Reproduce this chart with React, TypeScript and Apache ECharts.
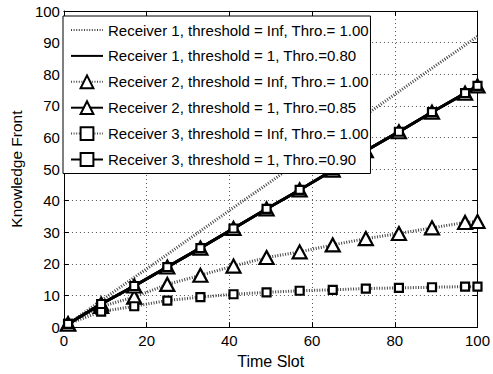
import React, { useEffect, useRef } from "react";
import * as echarts from "echarts";

const timeSlots = [1, 9, 17, 25, 33, 41, 49, 57, 65, 73, 81, 89, 97, 100];
const r1Inf = [1, 8.4, 15.7, 23, 30.4, 37.8, 45.1, 52.5, 59.8, 67.2, 74.5, 81.9, 89.2, 92];
const r1Th1 = [1, 7.3, 13, 19, 25, 31.2, 37.4, 43.4, 49.6, 55.8, 61.8, 68, 74, 76.3];
const r2Inf = [1, 6.5, 9.5, 13.5, 16.4, 19.3, 22, 23.8, 26, 28, 29.6, 31.4, 33.1, 33.4];
const r2Th1 = [1, 7.3, 13, 19, 25, 31.2, 37.4, 43.4, 49.6, 55.8, 61.8, 68, 74, 76.3];
const r3Inf = [1, 4.9, 6.6, 8.4, 9.5, 10.4, 11, 11.5, 11.8, 12.2, 12.4, 12.6, 12.8, 12.8];
const r3Th1 = [1, 7.3, 13, 19, 25, 31.2, 37.4, 43.4, 49.6, 55.8, 61.8, 68, 74, 76.3];
const seriesNames = [
  "Receiver 1, threshold = Inf, Thro.= 1.00",
  "Receiver 1, threshold = 1, Thro.=0.80",
  "Receiver 2, threshold = Inf, Thro.= 1.00",
  "Receiver 2, threshold = 1, Thro.=0.85",
  "Receiver 3, threshold = Inf, Thro.= 1.00",
  "Receiver 3, threshold = 1, Thro.=0.90",
];
const xTicks = [0, 20, 40, 60, 80, 100];
const yTicks = [0, 10, 20, 30, 40, 50, 60, 70, 80, 90, 100];

const FONT = "'Liberation Sans', Arial, Helvetica, sans-serif";

export default function App() {
  const ref = useRef<HTMLDivElement>(null);
  useEffect(() => {
    if (!ref.current) return;
    const chart = echarts.init(ref.current, null, { renderer: "svg" });
    const pairs = (ys: number[]) => timeSlots.map((x, i) => [x, ys[i]]);
    const dotted = { color: "#444", width: 3, type: [1, 1.6] as any };
    const solid = { color: "#000", width: 2.8, type: "solid" as any };
    const tri = { symbol: "triangle", symbolSize: [14, 13] };
    const sq = { symbol: "rect", symbolSize: 8 };
    const markStyle = { color: "#fff", borderColor: "#000", borderWidth: 2.2 };
    const hidden = { color: "rgba(0,0,0,0)", borderWidth: 0 };
    const common = { type: "line", clip: false, animation: false, z: 3 };
    const series: any[] = [
      { ...common, name: seriesNames[0], data: pairs(r1Inf), symbol: "none", lineStyle: dotted, itemStyle: hidden },
      { ...common, name: seriesNames[1], data: pairs(r1Th1), symbol: "none", lineStyle: solid, itemStyle: hidden },
      { ...common, name: seriesNames[2], data: pairs(r2Inf), ...tri, lineStyle: dotted, itemStyle: markStyle },
      { ...common, name: seriesNames[3], data: pairs(r2Th1), ...tri, lineStyle: solid, itemStyle: markStyle },
      { ...common, name: seriesNames[4], data: pairs(r3Inf), ...sq, lineStyle: dotted, itemStyle: markStyle },
      { ...common, name: seriesNames[5], data: pairs(r3Th1), ...sq, lineStyle: solid, itemStyle: markStyle },
    ];
    const axisLine = { show: true, onZero: false, lineStyle: { color: "#000", width: 1 } };
    const tick = { show: true, inside: true, length: 5, lineStyle: { color: "#000" } };
    const label = { color: "#000", fontSize: 15, fontFamily: FONT };
    const grid = { show: true, lineStyle: { color: "#555", width: 1, type: [1, 3] as any } };
    chart.setOption({
      animation: false,
      backgroundColor: "#fff",
      grid: { left: 57, right: 11, top: 11, bottom: 41 },
      legend: {
        show: true,
        data: seriesNames,
        orient: "vertical",
        left: 63,
        top: 16,
        itemWidth: 32,
        itemHeight: 16,
        itemGap: 10.9,
        padding: [6.5, 1.5, 6.5, 7],
        backgroundColor: "#fff",
        borderColor: "#000",
        borderWidth: 1,
        borderRadius: 0,
        selectedMode: false,
        textStyle: { color: "#000", fontSize: 15, fontFamily: FONT },
        z: 10,
      },
      xAxis: [
        {
          type: "value", min: xTicks[0], max: xTicks[xTicks.length - 1], interval: 20, position: "bottom",
          name: "Time Slot", nameLocation: "middle", nameGap: 22,
          nameTextStyle: { color: "#000", fontSize: 16, fontFamily: FONT },
          axisLine, axisTick: tick, axisLabel: { ...label, margin: 6 }, splitLine: grid,
        },
        {
          type: "value", min: xTicks[0], max: xTicks[xTicks.length - 1], interval: 20, position: "top",
          axisLine, axisTick: tick, axisLabel: { show: false }, splitLine: { show: false },
        },
      ],
      yAxis: [
        {
          type: "value", min: yTicks[0], max: yTicks[yTicks.length - 1], interval: 10, position: "left",
          name: "Knowledge Front", nameLocation: "middle", nameGap: 35,
          nameTextStyle: { color: "#000", fontSize: 15.5, fontFamily: FONT },
          axisLine, axisTick: tick, axisLabel: { ...label, margin: 4 }, splitLine: grid,
        },
        {
          type: "value", min: yTicks[0], max: yTicks[yTicks.length - 1], interval: 10, position: "right",
          axisLine, axisTick: tick, axisLabel: { show: false }, splitLine: { show: false },
        },
      ],
      series,
    });
    return () => chart.dispose();
  }, []);
  return <div ref={ref} style={{ width: 493, height: 374, position: "absolute", left: 0, top: 0 }} />;
}
